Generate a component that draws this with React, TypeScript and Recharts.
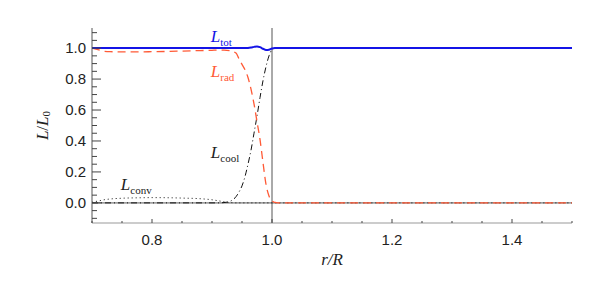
import React from "react";
import {
  LineChart,
  Line,
  XAxis,
  YAxis,
  ReferenceLine,
  ReferenceDot,
} from "recharts";

// radius grid, r/R
const rGrid = [
  0.7, 0.71, 0.72, 0.73, 0.75, 0.78, 0.8, 0.83, 0.85, 0.88, 0.9, 0.91, 0.92, 0.93, 0.94, 0.945,
  0.95, 0.955, 0.96, 0.965, 0.97, 0.975, 0.98, 0.985, 0.99, 0.995, 1.0, 1.005, 1.01, 1.02, 1.05,
  1.1, 1.2, 1.3, 1.4, 1.5,
];
const lTot = [
  1, 1, 1, 1, 1, 1, 1, 1, 1, 1, 1, 1, 1, 1, 1, 1,
  1, 1, 1.001, 1.004, 1.008, 1.011, 1.006, 0.996, 0.988, 0.99, 0.998, 1, 1, 1, 1,
  1, 1, 1, 1, 1,
];
const lRad = [
  1.0, 0.99, 0.98, 0.977, 0.976, 0.976, 0.977, 0.979, 0.981, 0.984, 0.986, 0.987, 0.987, 0.983, 0.968, 0.93,
  0.895, 0.86, 0.81, 0.735, 0.64, 0.525, 0.41, 0.26, 0.12, 0.045, 0.012, 0.003, 0, 0, 0,
  0, 0, 0, 0, 0,
];
const lCool = [
  0, 0, 0, 0, 0, 0, 0, 0, 0, 0, 0, 0, 0.002, 0.01, 0.04, 0.07,
  0.11, 0.17, 0.25, 0.34, 0.45, 0.56, 0.68, 0.79, 0.88, 0.95, 0.99, 1, 1, 1, 1,
  1, 1, 1, 1, 1,
];
const lConv = [
  0.004, 0.012, 0.02, 0.025, 0.03, 0.033, 0.034, 0.033, 0.031, 0.027, 0.02, 0.014, 0.007, 0.002, 0, 0,
  0, 0, 0, 0, 0, 0, 0, 0, 0, 0, 0, 0, 0, 0, 0,
  0, 0, 0, 0, 0,
];

const xTicks = [0.7, 0.75, 0.8, 0.85, 0.9, 0.95, 1.0, 1.05, 1.1, 1.15, 1.2, 1.25, 1.3, 1.35, 1.4, 1.45, 1.5];
const xMajor = [0.8, 1.0, 1.2, 1.4];
const yTicks = [
  -0.1, -0.05, 0, 0.05, 0.1, 0.15, 0.2, 0.25, 0.3, 0.35, 0.4, 0.45, 0.5, 0.55, 0.6, 0.65, 0.7,
  0.75, 0.8, 0.85, 0.9, 0.95, 1.0, 1.05, 1.1,
];
const yMajor = [0, 0.2, 0.4, 0.6, 0.8, 1.0];

const data = rGrid.map((r, i) => ({
  r,
  tot: lTot[i],
  rad: lRad[i],
  cool: lCool[i],
  conv: lConv[i],
}));

const BLUE = "#1414e6";
const RED = "#ff5a36";
const tickFont = { fontFamily: "'Liberation Sans', Arial, sans-serif", fontSize: 15, fill: "#222" };
const serif = "'Liberation Serif', 'Times New Roman', serif";

const isMajor = (v: number, list: number[]) => list.some((m) => Math.abs(m - v) < 1e-6);

function XTick(props: any) {
  const { x, y, payload, side } = props;
  const major = isMajor(payload.value, xMajor);
  const len = major ? 4 : 2;
  const dir = side === "top" ? 1 : -1;
  return (
    <g>
      <line x1={x} y1={y} x2={x} y2={y + dir * len} stroke="#444" strokeWidth={1} />
      {side === "bottom" && major && (
        <text x={x} y={y + 22} textAnchor="middle" {...tickFont}>
          {payload.value.toFixed(1)}
        </text>
      )}
    </g>
  );
}

function YTick(props: any) {
  const { x, y, payload, side } = props;
  const major = isMajor(payload.value, yMajor);
  const len = major ? 9 : 5;
  const dir = side === "left" ? 1 : -1;
  return (
    <g>
      <line x1={x} y1={y} x2={x + dir * len} y2={y} stroke="#444" strokeWidth={1} />
      {side === "left" && major && (
        <text x={x - 6} y={y + 5} textAnchor="end" {...tickFont}>
          {payload.value.toFixed(1)}
        </text>
      )}
    </g>
  );
}

function curveLabel(sub: string, color: string) {
  return (props: any) => {
    const vb = props.viewBox || {};
    return (
      <text x={vb.x} y={vb.y} fill={color} fontFamily={serif}>
        <tspan fontSize={17} fontStyle="italic">L</tspan>
        <tspan fontSize={11} dy={4}>{sub}</tspan>
      </text>
    );
  };
}

function YTitle(props: any) {
  const vb = props.viewBox || {};
  const cx = vb.x + vb.width - 50;
  const cy = vb.y + vb.height / 2;
  return (
    <text
      x={cx}
      y={cy}
      transform={`rotate(-90 ${cx} ${cy})`}
      textAnchor="middle"
      dominantBaseline="central"
      fontFamily={serif}
      fill="#222"
    >
      <tspan fontSize={17} fontStyle="italic">L</tspan>
      <tspan fontSize={17}>/</tspan>
      <tspan fontSize={17} fontStyle="italic">L</tspan>
      <tspan fontSize={11} dy={4}>0</tspan>
    </text>
  );
}

function XTitle(props: any) {
  const vb = props.viewBox || {};
  return (
    <text
      x={vb.x + vb.width / 2}
      y={vb.y + 42}
      textAnchor="middle"
      fontFamily={serif}
      fontSize={17}
      fontStyle="italic"
      fill="#222"
    >
      r/R
    </text>
  );
}

export default function App() {
  return (
    <div style={{ position: "absolute", left: 0, top: 0, background: "#fff" }}>
      <LineChart
        width={598}
        height={281}
        data={data}
        margin={{ top: 28, right: 26, left: 52, bottom: 28 }}
      >
        <XAxis
          dataKey="r"
          type="number"
          domain={[0.7, 1.5]}
          ticks={xTicks}
          interval={0}
          tickSize={0}
          tickMargin={0}
          tickLine={false}
          axisLine={{ stroke: "#999" }}
          tick={(p: any) => <XTick {...p} side="bottom" />}
          height={30}
          allowDataOverflow
          label={{ content: XTitle }}
        />
        <XAxis
          xAxisId="top"
          orientation="top"
          dataKey="r"
          type="number"
          domain={[0.7, 1.5]}
          ticks={xTicks}
          interval={0}
          tickSize={0}
          tickMargin={0}
          tickLine={false}
          axisLine={{ stroke: "#aaa" }}
          tick={(p: any) => <XTick {...p} side="top" />}
          height={0}
          allowDataOverflow
        />
        <YAxis
          type="number"
          domain={[-0.13, 1.13]}
          ticks={yTicks}
          interval={0}
          tickSize={0}
          tickMargin={0}
          tickLine={false}
          axisLine={{ stroke: "#555" }}
          tick={(p: any) => <YTick {...p} side="left" />}
          width={40}
          allowDataOverflow
          label={{ content: YTitle }}
        />
        <YAxis
          yAxisId="right"
          orientation="right"
          type="number"
          domain={[-0.13, 1.13]}
          ticks={yTicks}
          interval={0}
          tickSize={0}
          tickMargin={0}
          tickLine={false}
          axisLine={{ stroke: "#555" }}
          tick={(p: any) => <YTick {...p} side="right" />}
          width={0}
          allowDataOverflow
        />
        <ReferenceLine y={0} stroke="#a0a0a0" strokeWidth={1.6} />
        <ReferenceLine x={1} stroke="#555" strokeWidth={1} />
        <Line
          type="monotone"
          dataKey="conv"
          stroke="#111"
          strokeWidth={1}
          strokeDasharray="1 3"
          dot={false}
          isAnimationActive={false}
        />
        <Line
          type="monotone"
          dataKey="cool"
          stroke="#111"
          strokeWidth={1}
          strokeDasharray="6 3 1 3"
          dot={false}
          isAnimationActive={false}
        />
        <Line
          type="monotone"
          dataKey="rad"
          stroke={RED}
          strokeWidth={1.3}
          strokeDasharray="8 5"
          dot={false}
          isAnimationActive={false}
        />
        <Line
          type="monotone"
          dataKey="tot"
          stroke={BLUE}
          strokeWidth={2}
          dot={false}
          isAnimationActive={false}
        />
        <ReferenceDot x={0.898} y={1.039} r={0} fill="none" stroke="none" label={{ content: curveLabel("tot", BLUE) }} />
        <ReferenceDot x={0.898} y={0.812} r={0} fill="none" stroke="none" label={{ content: curveLabel("rad", RED) }} />
        <ReferenceDot x={0.898} y={0.289} r={0} fill="none" stroke="none" label={{ content: curveLabel("cool", "#222") }} />
        <ReferenceDot x={0.748} y={0.082} r={0} fill="none" stroke="none" label={{ content: curveLabel("conv", "#222") }} />
      </LineChart>
    </div>
  );
}
